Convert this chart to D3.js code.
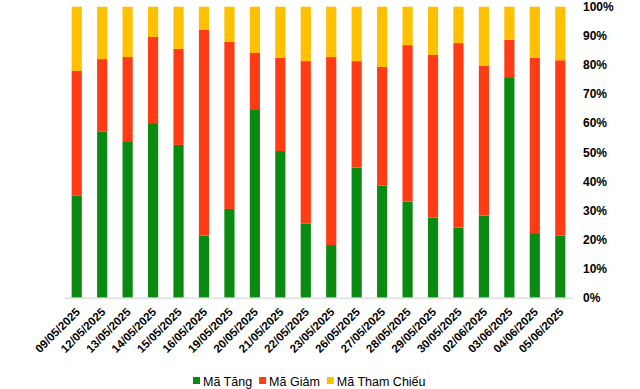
<!DOCTYPE html>
<html>
<head>
<meta charset="utf-8">
<script src="https://cdn.jsdelivr.net/npm/d3@7"></script>
<style>
  body { margin: 0; background: #fff; }
  svg { font-family: Arial, "Liberation Sans", sans-serif; }
</style>
</head>
<body>
<div id="chart"></div>
<script>
// ngày giao dịch
var dates = ["09/05/2025", "12/05/2025", "13/05/2025", "14/05/2025", "15/05/2025",
  "16/05/2025", "19/05/2025", "20/05/2025", "21/05/2025", "22/05/2025",
  "23/05/2025", "26/05/2025", "27/05/2025", "28/05/2025", "29/05/2025",
  "30/05/2025", "02/06/2025", "03/06/2025", "04/06/2025", "05/06/2025"];

// % số mã
var maTang = [35.0, 57.0, 53.8, 60.0, 52.5, 21.3, 30.5, 64.8, 50.4, 25.4,
  18.1, 44.7, 38.5, 33.0, 27.5, 24.1, 28.2, 75.8, 22.2, 21.3];
var maGiam = [42.9, 25.0, 28.9, 29.6, 33.0, 70.7, 57.4, 19.3, 32.0, 55.9,
  64.6, 36.6, 40.8, 53.8, 55.9, 63.4, 51.5, 12.8, 60.2, 60.3];
var maThamChieu = [22.1, 18.0, 17.3, 10.4, 14.5, 8.0, 12.1, 15.9, 17.6, 18.7,
  17.3, 18.7, 20.7, 13.2, 16.6, 12.5, 20.3, 11.4, 17.6, 18.4];

var yTicks = [0, 10, 20, 30, 40, 50, 60, 70, 80, 90, 100];

var seriesNames = ["Mã Tăng", "Mã Giảm", "Mã Tham Chiếu"];
var colors = ["#0b8a12", "#ff3c14", "#ffc000"];

var width = 640, height = 389;
var plot = { left: 64, right: 573, top: 6.7, bottom: 297.7 };

var rows = dates.map(function(d, i) {
  return { date: d, tang: maTang[i], giam: maGiam[i], tham: maThamChieu[i] };
});
var keys = ["tang", "giam", "tham"];

var svg = d3.select("#chart").append("svg")
  .attr("width", width)
  .attr("height", height);

var x = d3.scaleBand()
  .domain(dates)
  .range([plot.left, plot.right])
  .paddingInner(0.6)
  .paddingOuter(0.3);

var y = d3.scaleLinear()
  .domain([0, 100])
  .range([plot.bottom, plot.top]);

var stacked = d3.stack().keys(keys)(rows);

svg.append("g").selectAll("g")
  .data(stacked)
  .enter()
  .append("g")
  .attr("fill", (d, i) => colors[i])
  .selectAll("rect")
  .data(d => d)
  .enter()
  .append("rect")
  .attr("x", d => x(d.data.date))
  .attr("width", x.bandwidth())
  .attr("y", d => y(d[1]))
  .attr("height", d => y(d[0]) - y(d[1]));

// trục x
var xAxis = svg.append("g")
  .attr("transform", `translate(0, ${plot.bottom})`)
  .call(d3.axisBottom(x).tickSize(0).tickSizeOuter(0));

xAxis.select(".domain").attr("stroke", "#d9d9d9").attr("stroke-width", 1.3);
xAxis.selectAll("text")
  .attr("x", 0)
  .attr("y", 0)
  .attr("dy", 0)
  .attr("text-anchor", "end")
  .attr("transform", "translate(4, 15) rotate(-45)")
  .attr("font-size", "11.5px")
  .attr("font-weight", "bold")
  .attr("fill", "#000");

// trục y bên phải
var yAxis = svg.append("g")
  .attr("transform", `translate(580, 0)`)
  .call(d3.axisRight(y).tickValues(yTicks).tickSize(0).tickPadding(3).tickFormat(d => d + "%"));

yAxis.select(".domain").remove();
yAxis.selectAll("text")
  .attr("font-size", "12px")
  .attr("font-weight", "bold")
  .attr("fill", "#000");

// chú thích
var legend = svg.append("g")
  .attr("transform", "translate(193, 381)");

var offset = 0;
seriesNames.forEach(function(name, i) {
  var item = legend.append("g").attr("transform", `translate(${offset}, 0)`);
  item.append("rect")
    .attr("x", 0)
    .attr("y", -4)
    .attr("width", 7)
    .attr("height", 7)
    .attr("fill", colors[i]);
  var t = item.append("text")
    .attr("x", 10)
    .attr("y", 4.5)
    .attr("font-size", "12.5px")
    .attr("fill", "#000")
    .text(name);
  offset += 10 + t.node().getComputedTextLength() + 7;
});
</script>
</body>
</html>
